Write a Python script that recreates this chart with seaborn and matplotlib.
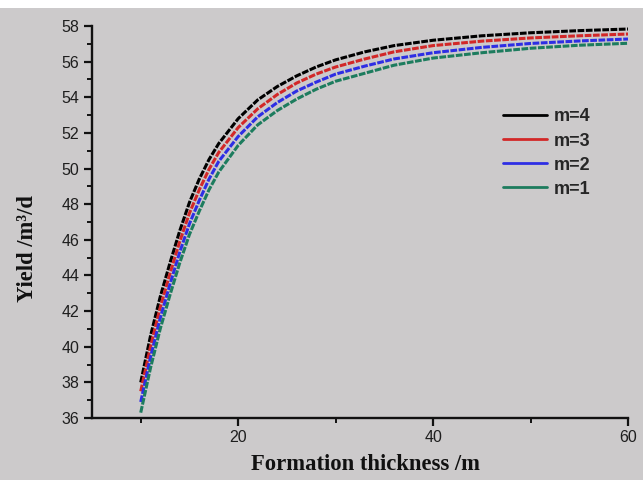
import numpy as np
import pandas as pd
import seaborn as sns
import matplotlib
matplotlib.use("Agg")
import matplotlib.pyplot as plt
from matplotlib.lines import Line2D
from matplotlib.patches import Rectangle

# ---- data ----
thickness = [10, 11, 12, 13, 14, 15, 16, 17, 18, 20, 22, 24, 26, 28, 30, 33, 36, 40, 45, 50, 55, 60]
yield_m4 = [38.0, 40.6, 42.8, 44.7, 46.5, 48.1, 49.4, 50.5, 51.4, 52.8, 53.85, 54.6, 55.2, 55.7, 56.1, 56.55, 56.9, 57.2, 57.45, 57.62, 57.74, 57.83]
yield_m3 = [37.5, 40.0, 42.2, 44.1, 45.9, 47.5, 48.8, 49.95, 50.9, 52.3, 53.35, 54.15, 54.8, 55.3, 55.7, 56.15, 56.55, 56.9, 57.15, 57.33, 57.45, 57.55]
yield_m2 = [36.9, 39.4, 41.6, 43.5, 45.3, 46.9, 48.2, 49.4, 50.4, 51.8, 52.9, 53.7, 54.35, 54.85, 55.3, 55.75, 56.15, 56.5, 56.8, 57.02, 57.16, 57.27]
yield_m1 = [36.3, 38.8, 41.0, 42.9, 44.7, 46.3, 47.6, 48.8, 49.8, 51.3, 52.45, 53.25, 53.9, 54.45, 54.9, 55.35, 55.8, 56.2, 56.5, 56.75, 56.92, 57.03]
series_names = ["m=4", "m=3", "m=2", "m=1"]
series_vals = [yield_m4, yield_m3, yield_m2, yield_m1]
colors = ["#000000", "#d22828", "#2e2ee4", "#1d7c5e"]
x_ticks = [20, 40, 60]
y_ticks = [36, 38, 40, 42, 44, 46, 48, 50, 52, 54, 56, 58]

df = pd.DataFrame({
    "x": np.concatenate([thickness] * 4),
    "y": np.concatenate(series_vals),
    "m": np.repeat(series_names, len(thickness)),
})

bg = "#cccacb"
sns.set_style("ticks")
fig = plt.figure(figsize=(6.43, 4.8), dpi=100, facecolor=bg)
fig.patches.append(Rectangle((0, 472 / 480), 1, 8 / 480, transform=fig.transFigure,
                             facecolor="white", edgecolor="none", zorder=-1))
ax = fig.add_axes([92 / 643, 1 - 418 / 480, (628 - 92) / 643, (418 - 26) / 480])
ax.set_facecolor(bg)

sns.lineplot(data=df, x="x", y="y", hue="m", hue_order=series_names,
             palette=colors, ax=ax, linewidth=2.2, linestyle=(0, (2.2, 0.5)),
             legend=False, sort=True)

ax.set_xlim(5, 60)
ax.set_ylim(36, 58)
ax.set_xticks(x_ticks)
ax.set_xticks([10, 30, 50], minor=True)
ax.set_yticks(y_ticks)
ax.set_yticks(np.arange(37, 58, 2), minor=True)

for side in ["top", "right"]:
    ax.spines[side].set_visible(False)
for side in ["left", "bottom"]:
    ax.spines[side].set_linewidth(1.7)
    ax.spines[side].set_color("#111111")

ax.tick_params(which="major", direction="out", length=6, width=1.6, color="#111111",
               labelsize=11.5, pad=3)
ax.tick_params(which="minor", direction="out", length=3.5, width=1.4, color="#111111")
for lab in ax.get_xticklabels() + ax.get_yticklabels():
    lab.set_fontfamily("Liberation Sans")
    lab.set_color("#1e1e1e")

ax.set_xlabel("Formation thickness /m", fontfamily="Liberation Serif", fontweight="bold",
              fontsize=16.3, color="#111111")
ax.set_ylabel("Yield /m³/d", fontfamily="Liberation Serif", fontweight="bold",
              fontsize=16.3, color="#111111")
ax.xaxis.set_label_coords((365 - 92) / 536, -(454 - 418) / 392)
ax.yaxis.set_label_coords((38 - 92) / 536, (418 - 249) / 392)

handles = [Line2D([0], [0], color=c, lw=2.0) for c in colors]
leg = ax.legend(handles, series_names, loc="upper left", bbox_to_anchor=(0.754, 0.808),
                frameon=False, handlelength=2.44, handletextpad=0.33, labelspacing=0.39,
                borderaxespad=0.0,
                prop={"family": "Liberation Sans", "weight": "bold", "size": 13})

fig.savefig("out.png", dpi=100, facecolor=bg)
